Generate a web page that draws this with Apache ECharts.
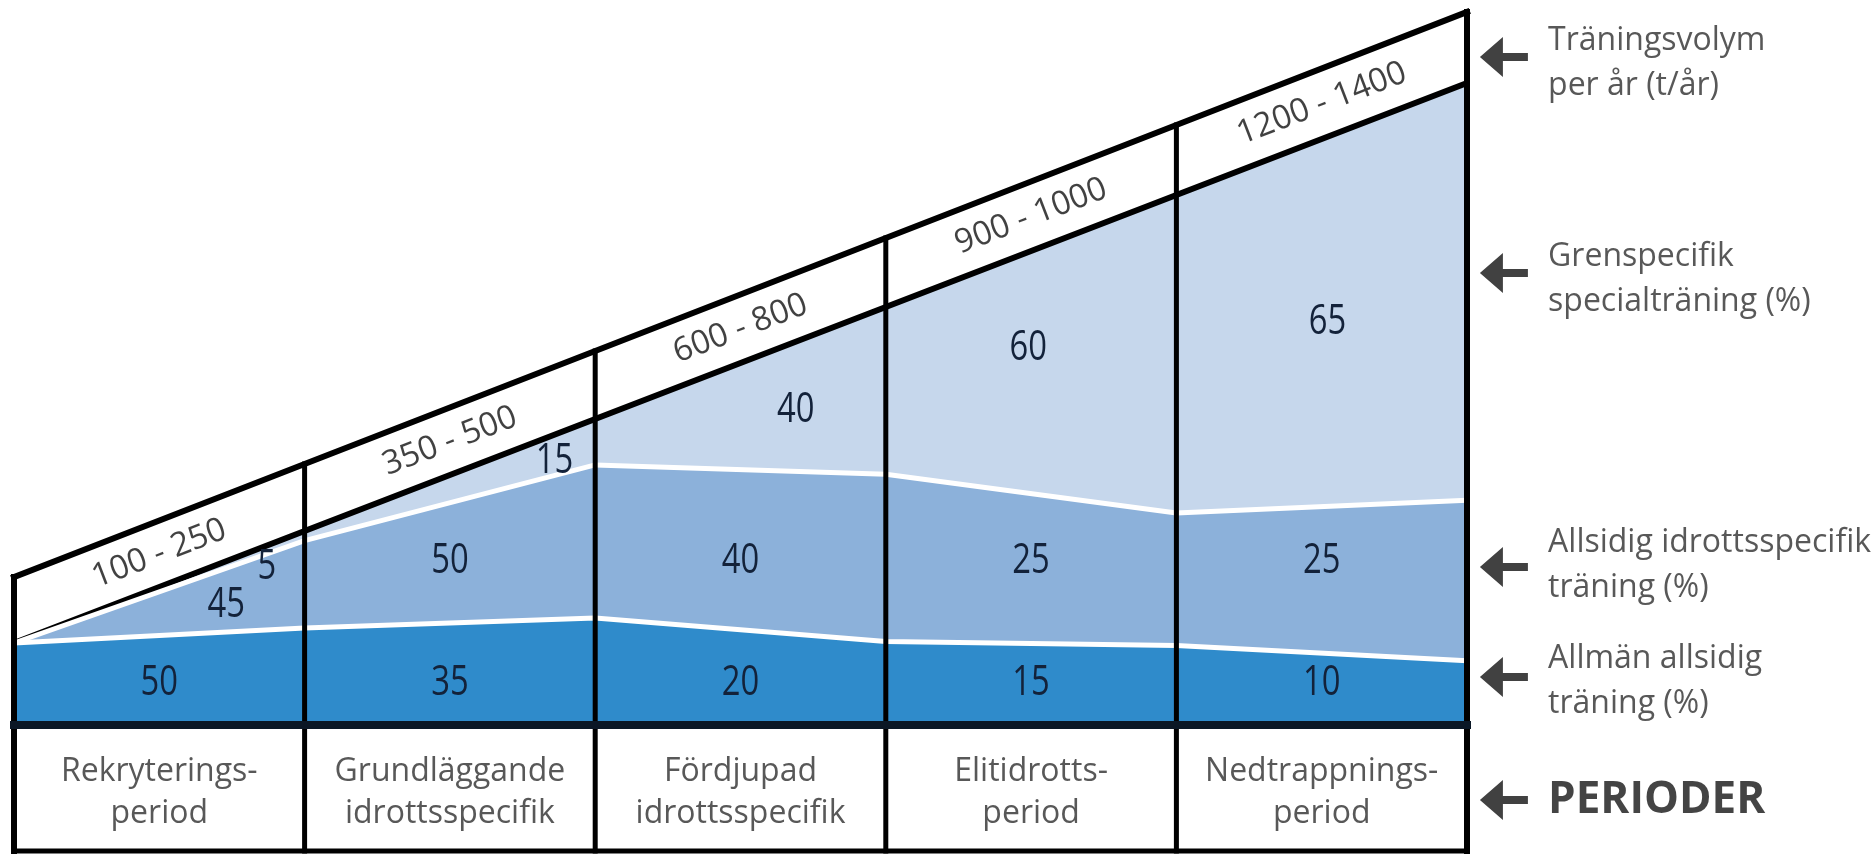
<!DOCTYPE html>
<html>
<head>
<meta charset="utf-8">
<title>Träningsvolym och periodisering</title>
<script src="https://cdn.jsdelivr.net/npm/echarts@6/dist/echarts.min.js"></script>
<style>
  html, body { margin: 0; padding: 0; background: #ffffff; }
  #chart { width: 1876px; height: 854px; }
</style>
</head>
<body>
<div id="chart"></div>
<script>
// Periods of the athlete's career (table under the diagram)
const perioder = [
  'Rekryterings-\nperiod',
  'Grundläggande\nidrottsspecifik',
  'Fördjupad\nidrottsspecifik',
  'Elitidrotts-\nperiod',
  'Nedtrappnings-\nperiod'
];
// Training volume per year (hours) for each period
const volym = ['100 - 250', '350 - 500', '600 - 800', '900 - 1000', '1200 - 1400'];

// Share of training (%) at each period boundary; the first entry is the start of the first period
const allman   = [100, 50, 35, 20, 15, 10];   // Allmän allsidig träning
const allsidig = [0, 45, 50, 40, 25, 25];     // Allsidig idrottsspecifik träning
const gren     = [0, 5, 15, 40, 60, 65];      // Grenspecifik specialträning

// Height of the diagram at each period boundary: inner and outer edge of the volume band
const bandBottom = [82, 194, 306, 418, 530, 642];
const bandTop    = [148, 261, 374, 487, 600, 713];
const tableDepth = 126;

// Captions on the right-hand side
const captions = [
  'Träningsvolym\nper år (t/år)',
  'Grenspecifik\nspecialträning (%)',
  'Allsidig idrottsspecifik\nträning (%)',
  'Allmän allsidig\nträning (%)',
  'PERIODER'
];

// ---- layout ----
const C_DARK = '#2f8bcb', C_MID = '#8cb1da', C_LIGHT = '#c6d7ec';
const C_NUM = '#13223a', C_TXT = '#2e2e2e';
const TXT_FONT = "'Open Sans', 'Noto Sans', sans-serif";
const nB = bandBottom.length;
const xs = bandBottom.map((_, i) => i);

// cumulative top edge of each layer (share of the diagram height at that boundary)
const topOf = shares => xs.map(i => [i, shares.reduce((s, arr) => s + arr[i], 0) * bandBottom[i] / 100]);
const darkTop  = topOf([allman]);
const midTop   = topOf([allman, allsidig]);
const lightTop = topOf([allman, allsidig, gren]);

// anchor points of the share numbers inside each layer (axis units)
const darkSpots  = [[0.5, 42], [1.5, 42], [2.5, 42], [3.5, 42], [4.5, 42]];
const midSpots   = [[0.73, 120], [1.5, 164], [2.5, 164], [3.5, 164], [4.5, 164]];
const lightSpots = [[0.87, 158], [1.86, 264], [2.69, 315], [3.49, 377], [4.52, 403]];

// condensed numerals drawn as text elements positioned through the axes
function numberSeries(name, spots, values) {
  return {
    name: name, type: 'custom', coordinateSystem: 'cartesian2d', z: 20, silent: true, clip: false,
    data: spots.map((p, i) => [p[0], p[1], values[i + 1]]),
    encode: { x: 0, y: 1 },
    renderItem: (params, api) => {
      const pt = api.coord([api.value(0), api.value(1)]);
      return {
        type: 'text', x: pt[0], y: pt[1], scaleX: 0.78,
        style: {
          text: String(api.value(2)), fill: C_NUM,
          fontFamily: TXT_FONT, fontSize: 42,
          align: 'center', verticalAlign: 'middle'
        }
      };
    }
  };
}

// filled layer from the base line (y = 0) up to its cumulative top edge
function areaSeries(name, data, z, fill, stroke, width) {
  return {
    name: name, type: 'line', z: z, symbol: 'none', clip: false, silent: true,
    data: data,
    lineStyle: { color: stroke, width: width },
    areaStyle: { color: fill, opacity: 1, origin: 'auto' }
  };
}

const volymData = volym.map((t, i) => ({
  value: [i + 0.5, (bandBottom[i] + bandBottom[i + 1] + bandTop[i] + bandTop[i + 1]) / 4],
  label: { formatter: t }
}));

const periodData = perioder.map((t, i) => ({ value: [i + 0.5, -tableDepth / 2 - 5], label: { formatter: t } }));

// frame segments: vertical dividers, base line, table bottom, outer edge of the volume band
const frame = [];
xs.forEach(i => {
  const edge = (i === 0 || i === nB - 1);
  frame.push({ coords: [[i, -tableDepth], [i, bandTop[i]]], lineStyle: { width: edge ? 6 : 5 } });
});
frame.push({ coords: [[0, 0], [nB - 1, 0]], lineStyle: { width: 8, color: '#0b1725' } });
frame.push({ coords: [[0, -tableDepth], [nB - 1, -tableDepth]], lineStyle: { width: 5 } });
frame.push({ coords: xs.map(i => [i, bandTop[i]]), lineStyle: { width: 6 } });

const arrowPath = 'path://M0,20 L23,0 L23,16 L48,16 L48,24 L23,24 L23,40 Z';
const arrowY = [668, 452, 158, 48, -75];
const captionY = [662, 446, 160, 44, -75];

const option = {
  animation: false,
  backgroundColor: '#ffffff',
  grid: { left: 14, right: 2.16, top: 0, bottom: 3 },
  xAxis: { type: 'value', min: 0, max: 6.4, show: false },
  yAxis: { type: 'value', min: -tableDepth, max: 725, show: false },
  series: [
    areaSeries('Grenspecifik specialträning', lightTop, 3, C_LIGHT, '#000000', 6),
    areaSeries('Allsidig idrottsspecifik träning', midTop, 4, C_MID, '#ffffff', 5),
    areaSeries('Allmän allsidig träning', darkTop, 5, C_DARK, '#ffffff', 5),
    {
      name: 'ram', type: 'lines', coordinateSystem: 'cartesian2d', polyline: true,
      z: 10, silent: true, clip: false,
      lineStyle: { color: '#000000', width: 5, opacity: 1, cap: 'square', join: 'miter' },
      data: frame
    },
    numberSeries('allmän', darkSpots, allman),
    numberSeries('allsidig', midSpots, allsidig),
    numberSeries('gren', lightSpots, gren),
    {
      name: 'volym', type: 'scatter', z: 20, silent: true, symbolSize: 0,
      data: volymData,
      label: {
        show: true, position: 'inside', rotate: 21, color: '#111111',
        fontFamily: TXT_FONT, fontSize: 33
      }
    },
    {
      name: 'perioder', type: 'scatter', z: 20, silent: true, symbolSize: 0,
      data: periodData,
      label: {
        show: true, position: 'inside', color: C_TXT, align: 'center',
        fontFamily: TXT_FONT, fontSize: 32, lineHeight: 42
      }
    },
    {
      name: 'pilar', type: 'scatter', z: 20, silent: true, clip: false,
      symbol: arrowPath, symbolSize: [48, 40], itemStyle: { color: '#111111' },
      data: arrowY.map(y => [5.127, y])
    },
    {
      name: 'förklaringar', type: 'scatter', z: 20, silent: true, clip: false, symbolSize: 0,
      data: captions.map((t, i) => ({
        value: [5.279, captionY[i]],
        label: i === captions.length - 1
          ? { formatter: t, fontSize: 44, fontWeight: 'bold', color: '#151515' }
          : { formatter: t }
      })),
      label: {
        show: true, position: 'right', distance: 0, align: 'left', verticalAlign: 'middle',
        color: C_TXT, fontFamily: TXT_FONT, fontSize: 32, lineHeight: 45
      }
    }
  ]
};

const chart = echarts.init(document.getElementById('chart'), null, { renderer: 'canvas' });
chart.setOption(option);
</script>
</body>
</html>
